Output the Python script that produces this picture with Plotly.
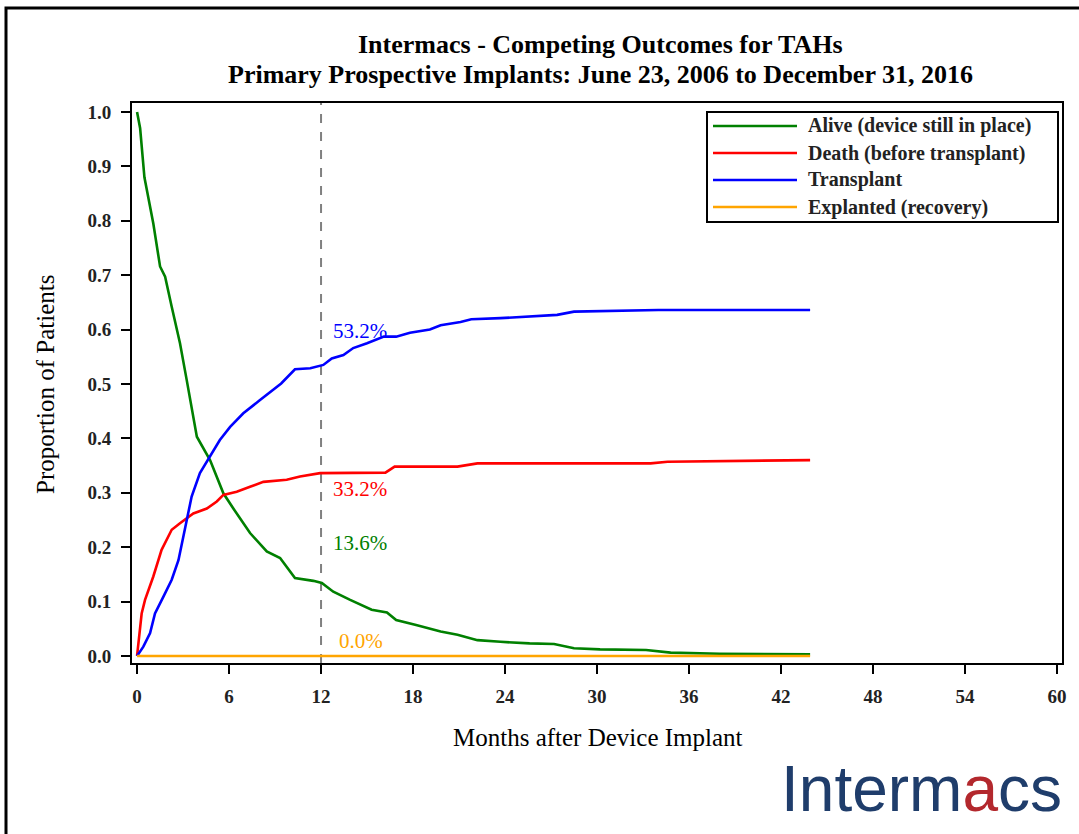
import plotly.graph_objects as go

# ---------------- data ----------------
alive_x = [0, 0.2, 0.48, 1.06, 1.5, 1.83, 2.26, 2.8, 3.24, 3.9, 4.76, 5.63, 6.28, 7.37, 8.46, 9.33,
           10.3, 11.5, 12.05, 12.8, 13.9, 15.3, 16.3, 16.9, 18.2, 19.8, 20.9, 22.2, 23.7, 25.6, 27.2,
           28.5, 30.2, 33.2, 34.8, 38.0, 43.9]
alive_y = [1.0, 0.97, 0.88, 0.795, 0.716, 0.697, 0.642, 0.575, 0.507, 0.403, 0.36, 0.299, 0.271, 0.226,
           0.192, 0.18, 0.143, 0.138, 0.134, 0.118, 0.103, 0.085, 0.080, 0.066, 0.057, 0.045, 0.039,
           0.029, 0.026, 0.023, 0.022, 0.014, 0.012, 0.011, 0.006, 0.004, 0.003]

death_x = [0, 0.3, 0.52, 1.06, 1.6, 2.26, 2.8, 3.67, 4.55, 5.2, 5.63, 6.5, 7.37, 8.24, 9.76, 10.63,
           11.94, 16.2, 16.8, 20.9, 22.2, 30.2, 33.5, 34.6, 43.9]
death_y = [0, 0.078, 0.103, 0.146, 0.195, 0.232, 0.244, 0.262, 0.271, 0.284, 0.296, 0.302, 0.311,
           0.32, 0.324, 0.33, 0.336, 0.337, 0.348, 0.348, 0.354, 0.354, 0.354, 0.357, 0.36]

tx_x = [0, 0.41, 0.85, 1.17, 1.72, 2.26, 2.7, 3.13, 3.56, 4.1, 4.76, 5.4, 6.07, 6.93, 8.0, 8.9, 9.4,
        10.3, 11.3, 12.15, 12.7, 13.46, 14.1, 15.0, 16.1, 16.9, 17.8, 19.1, 19.8, 21.1, 21.8, 23.7,
        27.4, 28.5, 30.2, 34.0, 43.9]
tx_y = [0, 0.017, 0.042, 0.078, 0.109, 0.14, 0.176, 0.238, 0.293, 0.336, 0.366, 0.397, 0.421, 0.446,
        0.47, 0.489, 0.501, 0.527, 0.529, 0.535, 0.547, 0.553, 0.566, 0.575, 0.587, 0.587, 0.594, 0.600,
        0.608, 0.614, 0.619, 0.621, 0.627, 0.633, 0.634, 0.636, 0.636]

expl_x = [0, 43.9]
expl_y = [0, 0]

series_names = ["Alive (device still in place)", "Death (before transplant)", "Transplant",
                "Explanted (recovery)"]
series_colors = ["#008000", "#ff0000", "#0000ff", "#ffa500"]

label_texts = ["53.2%", "33.2%", "13.6%", "0.0%"]
label_x = [12.65, 12.65, 12.65, 13.05]
label_y = [0.597, 0.307, 0.208, 0.028]
label_colors = ["#0000ff", "#ff0000", "#008000", "#ffa500"]

x_ticks = [0, 6, 12, 18, 24, 30, 36, 42, 48, 54, 60]
y_ticks = [0.0, 0.1, 0.2, 0.3, 0.4, 0.5, 0.6, 0.7, 0.8, 0.9, 1.0]

title1 = "Intermacs - Competing Outcomes for TAHs"
title2 = "Primary Prospective Implants: June 23, 2006 to December 31, 2016"
x_title = "Months after Device Implant"
y_title = "Proportion of Patients"

# ---------------- layout geometry ----------------
W, H = 1079, 834
L, R, T, B = 132, 1062, 103, 663
PW, PH = R - L, B - T


def px(xp):
    return (xp - L) / PW


def py(yp):
    return (B - yp) / PH


SERIF = "Liberation Serif, Times New Roman, serif"

fig = go.Figure()
series = [(alive_x, alive_y), (death_x, death_y), (tx_x, tx_y), (expl_x, expl_y)]
for (xs, ys), name, col in zip(series, series_names, series_colors):
    fig.add_trace(go.Scatter(x=xs, y=ys, mode="lines", name=name,
                             line=dict(color=col, width=2.6), showlegend=False))

annotations = []
for t, xv, yv, c in zip(label_texts, label_x, label_y, label_colors):
    annotations.append(dict(x=xv, y=yv, xref="x", yref="y", text=t, showarrow=False,
                            xanchor="left", yanchor="middle",
                            font=dict(family=SERIF, size=21, color=c)))

# titles
annotations.append(dict(x=px(600), y=py(45), xref="paper", yref="paper", text="<b>%s</b>" % title1,
                        showarrow=False, xanchor="center", yanchor="middle",
                        font=dict(family=SERIF, size=26, color="black")))
annotations.append(dict(x=px(600), y=py(75), xref="paper", yref="paper", text="<b>%s</b>" % title2,
                        showarrow=False, xanchor="center", yanchor="middle",
                        font=dict(family=SERIF, size=26, color="black")))
annotations.append(dict(x=px(598), y=py(737), xref="paper", yref="paper", text=x_title,
                        showarrow=False, xanchor="center", yanchor="middle",
                        font=dict(family=SERIF, size=25, color="black")))
annotations.append(dict(x=px(45), y=py(385), xref="paper", yref="paper", text=y_title,
                        showarrow=False, xanchor="center", yanchor="middle", textangle=-90,
                        font=dict(family=SERIF, size=25, color="black")))

# manual legend
shapes = []
shapes.append(dict(type="rect", xref="paper", yref="paper", x0=px(707), x1=px(1058),
                   y0=py(222), y1=py(112), line=dict(color="black", width=2),
                   fillcolor="white", layer="above"))
row_y = [126, 153, 180, 207]
for name, col, ry in zip(series_names, series_colors, row_y):
    shapes.append(dict(type="line", xref="paper", yref="paper", x0=px(713), x1=px(797),
                       y0=py(ry), y1=py(ry), line=dict(color=col, width=2.6), layer="above"))
    annotations.append(dict(x=px(806), y=py(ry), xref="paper", yref="paper", text="<b>%s</b>" % name,
                            showarrow=False, xanchor="left", yanchor="middle",
                            font=dict(family=SERIF, size=20, color="#222222")))

# dashed reference line at 12 months
shapes.append(dict(type="line", xref="x", yref="paper", x0=12, x1=12, y0=0, y1=1,
                   line=dict(color="#808080", width=2, dash="dash"), layer="below"))

# outer frame of image
shapes.append(dict(type="rect", xref="paper", yref="paper", x0=px(6), x1=px(1090),
                   y0=py(850), y1=py(8), line=dict(color="black", width=3)))

# logo
annotations.append(dict(x=px(1064), y=py(789), xref="paper", yref="paper",
                        text="Interm<span style='color:#b3282d'>a</span>cs",
                        showarrow=False, xanchor="right", yanchor="middle",
                        font=dict(family="Liberation Sans, Arial, sans-serif", size=64,
                                  color="#1f3d6b")))

fig.update_layout(
    width=W, height=H,
    margin=dict(l=L, r=W - R, t=T, b=H - B, pad=0),
    paper_bgcolor="white", plot_bgcolor="white",
    showlegend=False,
    annotations=annotations,
    shapes=shapes,
)
fig.update_xaxes(range=[-0.33, 60.33], tickvals=x_ticks, ticktext=["<b>%d</b>" % v for v in x_ticks],
                 ticks="outside", ticklen=9, tickwidth=2, tickcolor="black",
                 showline=True, linecolor="black", linewidth=2, mirror=True,
                 showgrid=False, zeroline=False, ticklabelstandoff=6,
                 tickfont=dict(family=SERIF, size=19, color="#222222"))
fig.update_yaxes(range=[-0.013, 1.0165], tickvals=y_ticks, ticktext=["<b>%.1f</b>" % v for v in y_ticks],
                 ticks="outside", ticklen=9, tickwidth=2, tickcolor="black",
                 showline=True, linecolor="black", linewidth=2, mirror=True,
                 showgrid=False, zeroline=False, ticklabelstandoff=6,
                 tickfont=dict(family=SERIF, size=19, color="#222222"))

fig.write_html("out.html", config={"displayModeBar": False},
               post_script="document.body.style.margin='0px';")
